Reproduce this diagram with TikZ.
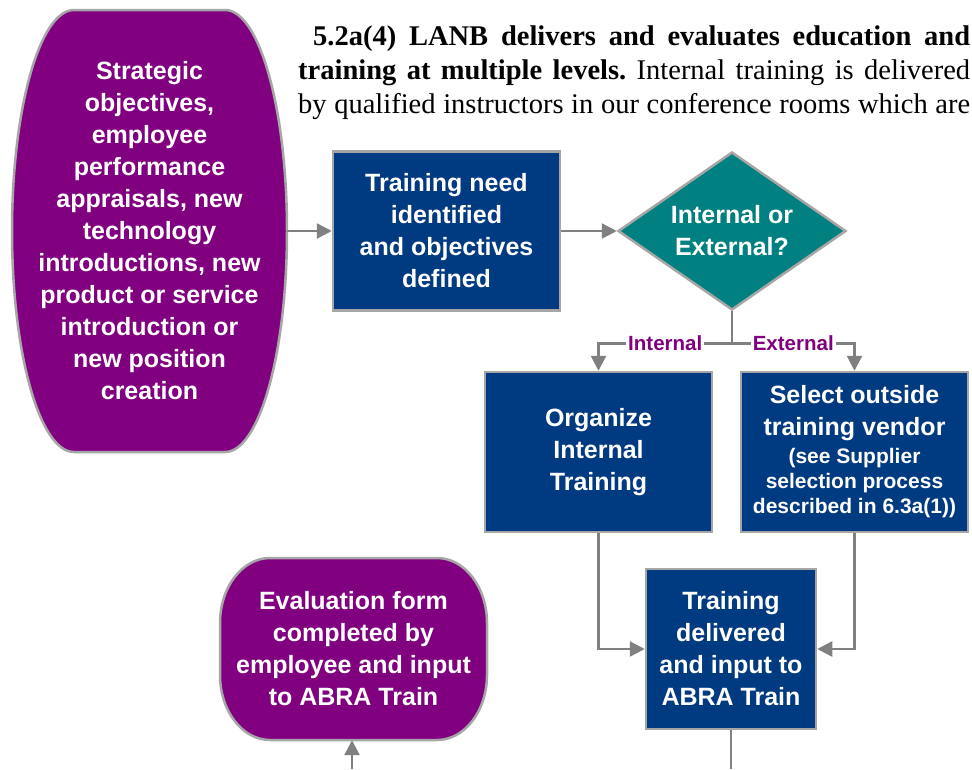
\documentclass[tikz,border=0pt]{standalone}
\usepackage{fontspec}
\setmainfont{Liberation Sans}
\newfontfamily\serifx{Liberation Serif}
\usetikzlibrary{shapes.geometric,arrows.meta}
\definecolor{navy}{HTML}{003A80}
\definecolor{tealc}{HTML}{008080}
\definecolor{purp}{HTML}{800080}
\definecolor{bord}{HTML}{A6A6A6}
\definecolor{arrg}{HTML}{808080}
\newcommand{\smalltxt}{\fontsize{21}{25.5}\selectfont}
\tikzset{
  boxnode/.style={rectangle, draw=bord, line width=2.5pt, fill=navy, text=white,
    font=\fontsize{25}{32}\selectfont\bfseries, align=center, inner sep=0pt},
  decnode/.style={diamond, draw=bord, line width=2.5pt, fill=tealc, text=white,
    font=\fontsize{25}{32}\selectfont\bfseries, align=center, inner sep=0pt,
    shape aspect=1.44},
  termtext/.style={rectangle, draw=none, text=white,
    font=\fontsize{25}{32}\selectfont\bfseries, align=center, inner sep=0pt},
  termshape/.style={fill=purp, draw=bord, line width=2.5pt},
  conn/.style={draw=arrg, line width=2.5pt, -{Triangle[length=15pt,width=15pt]}},
  plainline/.style={draw=arrg, line width=2.5pt},
  edgelabel/.style={fill=white, text=purp, inner sep=2pt,
    font=\fontsize{20.5}{24}\selectfont\bfseries},
  bodytext/.style={anchor=base west, inner sep=0pt,
    font=\serifx\fontsize{28.5}{34}\selectfont\frenchspacing}
}
\begin{document}
\begin{tikzpicture}[x=1pt,y=-1pt]
\useasboundingbox (0,0) rectangle (972,769);
\clip (0,0) rectangle (972,769);
\fill[white] (0,0) rectangle (972,769);

% body text
\node[bodytext] (t1) at (313,45.5) {\makebox[657pt][s]{\bfseries 5.2a(4) LANB delivers and evaluates education and}};
\node[bodytext] (t2) at (298,79.5) {\makebox[672pt][s]{\bfseries training at multiple levels.\mdseries{} Internal training is delivered}};
\node[bodytext] (t3) at (298,113) {\makebox[672pt][s]{by qualified instructors in our conference rooms which are}};

% left terminator shape
\filldraw[termshape] (74,10) -- (225,10)
  arc[start angle=-90, end angle=90, x radius=62, y radius=221] -- (74,452)
  arc[start angle=90, end angle=270, x radius=62, y radius=221] -- cycle;
\node[termtext, minimum width=275pt, minimum height=442pt] (src) at (149.5,231)
  {Strategic\\objectives,\\employee\\performance\\appraisals, new\\technology\\introductions, new\\product or service\\introduction or\\new position\\creation};

% evaluation terminator
\filldraw[termshape] (270,558) -- (437,558)
  arc[start angle=-90, end angle=0, x radius=50, y radius=65] -- (487,675)
  arc[start angle=0, end angle=90, x radius=50, y radius=65] -- (270,740)
  arc[start angle=90, end angle=180, x radius=50, y radius=65] -- (220,623)
  arc[start angle=180, end angle=270, x radius=50, y radius=65] -- cycle;
\node[termtext, minimum width=267pt, minimum height=182pt] (eval) at (353.5,649)
  {Evaluation form\\completed by\\employee and input\\to ABRA Train};

% process boxes
\node[boxnode, minimum width=227pt, minimum height=159pt] (b1) at (446.5,231)
  {Training need\\identified\\and objectives\\defined};
\node[decnode, minimum width=228pt, minimum height=158pt] (dia) at (732,231)
  {Internal or\\External?};
\node[boxnode, minimum width=227pt, minimum height=160pt] (b2) at (598.5,452)
  {Organize\\Internal\\Training};
\node[boxnode, minimum width=227pt, minimum height=160pt] (b3) at (854.5,452)
  {Select outside\\training vendor\\[-4pt]\smalltxt (see Supplier\\[-7pt]\smalltxt selection process\\[-7pt]\smalltxt described in 6.3a(1))};
\node[boxnode, minimum width=170pt, minimum height=160pt] (b4) at (731,649)
  {Training\\delivered\\and input to\\ABRA Train};

% connectors
\draw[conn] (src.east) -- (b1.west);
\draw[conn] (b1.east) -- (dia.west);
\path (dia.south) ++(0,32) coordinate (split);
\draw[plainline] (dia.south) -- (split);
\draw[conn] (split) -| (b2.north) node[edgelabel, pos=0.25] (lint) {Internal};
\draw[conn] (split) -| (b3.north) node[edgelabel, pos=0.25] (lext) {External};
\draw[conn] (b2.south) |- (b4.west);
\draw[conn] (b3.south) |- (b4.east);
\coordinate (b4out) at (731,769);
\draw[plainline] (b4.south) -- (b4out);
\coordinate (evin) at (352,769);
\draw[conn] (evin) -- (evin |- eval.south);
\end{tikzpicture}
\end{document}
